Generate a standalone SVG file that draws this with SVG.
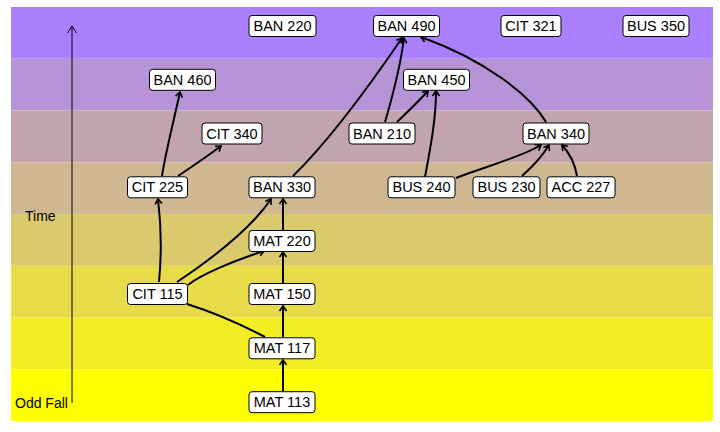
<svg xmlns="http://www.w3.org/2000/svg" width="720" height="432" viewBox="0 0 720 432">
<style>
.box{fill:#fff;stroke:#000;stroke-width:1}
.lbl{font-family:"Liberation Sans",Arial,sans-serif;font-size:14.5px;fill:#000;text-anchor:middle}
.ax{font-family:"Liberation Sans",Arial,sans-serif;font-size:14px;fill:#000}
.e{fill:none;stroke:#000;stroke-width:2;marker-end:url(#ah)}
.en{fill:none;stroke:#000;stroke-width:2}
</style>
<defs>
<marker id="ah" markerUnits="userSpaceOnUse" markerWidth="12" markerHeight="12" refX="0" refY="0" viewBox="-7 -6 9 12" orient="auto" overflow="visible">
<path d="M-5,-3.5 L0,0 L-5,3.5" fill="none" stroke="#000" stroke-width="1.6"/>
</marker>
<marker id="axh" markerUnits="userSpaceOnUse" markerWidth="12" markerHeight="12" refX="0" refY="0" viewBox="-9 -6 11 12" orient="auto" overflow="visible">
<path d="M-7,-4.5 L0,0 L-7,4.5" fill="none" stroke="#000" stroke-width="1"/>
</marker>
</defs>
<rect width="720" height="432" fill="#fff"/>
<g id="bands">
<rect x="11" y="7" width="702" height="51.75" fill="#AA80FF"/>
<rect x="11" y="58.75" width="702" height="51.75" fill="#B693D6"/>
<rect x="11" y="110.5" width="702" height="51.75" fill="#C2A4B1"/>
<rect x="11" y="162.25" width="702" height="51.75" fill="#CFB792"/>
<rect x="11" y="214" width="702" height="51.75" fill="#DBC96D"/>
<rect x="11" y="265.75" width="702" height="51.75" fill="#E7DB49"/>
<rect x="11" y="317.5" width="702" height="51.75" fill="#F3ED24"/>
<rect x="11" y="369.25" width="702" height="51.75" fill="#FFFF00"/>
</g>
<g id="axis">
<line x1="72" y1="403" x2="72" y2="26" stroke="#000" stroke-width="1" marker-end="url(#axh)"/>
<text class="ax" x="25" y="221">Time</text>
<text class="ax" x="15" y="408">Odd Fall</text>
</g>
<g id="connectors">
<path class="e" d="M162,176 C166,150 174,120 180,92"/>
<path class="e" d="M178,176 Q205,158 221,146"/>
<path class="e" d="M293,176 C330,140 370,85 402,38"/>
<path class="e" d="M159,282 Q163,240 158,199"/>
<path class="e" d="M177,282 C210,260 250,230 271,199"/>
<path class="e" d="M188,285 C200,275 235,260 264,251"/>
<path class="en" d="M187,304 Q225,316 265,337"/>
<path class="e" d="M283,230 L283,199"/>
<path class="e" d="M283,283 L283,252"/>
<path class="e" d="M283,337 L283,306"/>
<path class="e" d="M283,391 L283,360"/>
<path class="e" d="M385,122 C390,105 400,70 404,38"/>
<path class="e" d="M397,122 Q415,105 428,91"/>
<path class="e" d="M425,177 C430,150 436,120 436,91"/>
<path class="e" d="M546,122 C530,95 485,60 421,37"/>
<path class="e" d="M456,178 C480,168 520,158 541,145"/>
<path class="e" d="M522,176 Q540,160 549,145"/>
<path class="e" d="M577,176 Q574,158 562,145"/>
</g>
<g id="BAN220"><rect class="box" x="249" y="15.5" width="67" height="21" rx="3"/><text class="lbl" x="282.5" y="31">BAN 220</text></g>
<g id="BAN490"><rect class="box" x="373.5" y="15.5" width="66" height="21" rx="3"/><text class="lbl" x="406.5" y="31">BAN 490</text></g>
<g id="CIT321"><rect class="box" x="501" y="15.5" width="60" height="21" rx="3"/><text class="lbl" x="531" y="31">CIT 321</text></g>
<g id="BUS350"><rect class="box" x="623" y="15.5" width="66" height="21" rx="3"/><text class="lbl" x="656" y="31">BUS 350</text></g>
<g id="BAN460"><rect class="box" x="149.5" y="69.3" width="66" height="21" rx="3"/><text class="lbl" x="182.5" y="84.8">BAN 460</text></g>
<g id="BAN450"><rect class="box" x="403.5" y="69.3" width="66" height="21" rx="3"/><text class="lbl" x="436.5" y="84.8">BAN 450</text></g>
<g id="CIT340"><rect class="box" x="202" y="123" width="60" height="21" rx="3"/><text class="lbl" x="232" y="138.5">CIT 340</text></g>
<g id="BAN210"><rect class="box" x="349" y="123" width="66" height="21" rx="3"/><text class="lbl" x="382" y="138.5">BAN 210</text></g>
<g id="BAN340"><rect class="box" x="523" y="123" width="66" height="21" rx="3"/><text class="lbl" x="556" y="138.5">BAN 340</text></g>
<g id="CIT225"><rect class="box" x="127.5" y="176.8" width="60" height="21" rx="3"/><text class="lbl" x="157.5" y="192.3">CIT 225</text></g>
<g id="BAN330"><rect class="box" x="249" y="176.8" width="66" height="21" rx="3"/><text class="lbl" x="282" y="192.3">BAN 330</text></g>
<g id="BUS240"><rect class="box" x="388" y="176.8" width="67" height="21" rx="3"/><text class="lbl" x="421.5" y="192.3">BUS 240</text></g>
<g id="BUS230"><rect class="box" x="473" y="176.8" width="67" height="21" rx="3"/><text class="lbl" x="506.5" y="192.3">BUS 230</text></g>
<g id="ACC227"><rect class="box" x="547" y="176.8" width="68" height="21" rx="3"/><text class="lbl" x="581" y="192.3">ACC 227</text></g>
<g id="MAT220"><rect class="box" x="249" y="230.5" width="66" height="21" rx="3"/><text class="lbl" x="282" y="246">MAT 220</text></g>
<g id="CIT115"><rect class="box" x="127.5" y="283.5" width="60" height="21" rx="3"/><text class="lbl" x="157.5" y="299">CIT 115</text></g>
<g id="MAT150"><rect class="box" x="249" y="283.5" width="66" height="21" rx="3"/><text class="lbl" x="282" y="299">MAT 150</text></g>
<g id="MAT117"><rect class="box" x="249" y="337.8" width="66" height="21" rx="3"/><text class="lbl" x="282" y="353.3">MAT 117</text></g>
<g id="MAT113"><rect class="box" x="249" y="391.7" width="66" height="21" rx="3"/><text class="lbl" x="282" y="407.2">MAT 113</text></g>
</svg>
